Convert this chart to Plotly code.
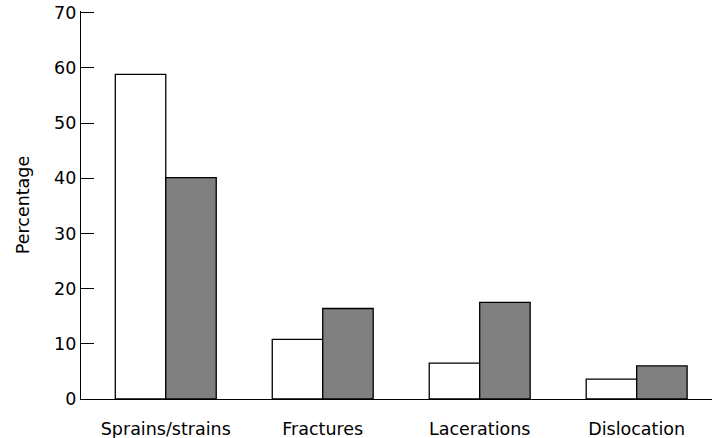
import plotly.graph_objects as go

categories = ["Sprains/strains", "Fractures", "Lacerations", "Dislocation"]
series_a = [58.8, 10.8, 6.5, 3.6]
series_b = [40.1, 16.4, 17.5, 6.0]
y_ticks = [0, 10, 20, 30, 40, 50, 60, 70]

fig = go.Figure()
fig.add_trace(go.Bar(x=categories, y=series_a, marker=dict(color="white", line=dict(color="black", width=1.3))))
fig.add_trace(go.Bar(x=categories, y=series_b, marker=dict(color="#808080", line=dict(color="black", width=1.3))))

fig.update_layout(
    width=720, height=438,
    margin=dict(l=81, r=8, t=11, b=39),
    paper_bgcolor="white", plot_bgcolor="white",
    barmode="group", bargap=0.357, bargroupgap=0,
    showlegend=False,
    font=dict(family="DejaVu Sans", size=17.5, color="black"),
)
fig.update_xaxes(
    range=[-0.54, 3.48], showline=True, linecolor="black", linewidth=1.3,
    showgrid=False, ticks="", tickfont=dict(size=17.5), automargin=False,
    ticklabelstandoff=14,
)
fig.update_yaxes(
    range=[0, 70.3], tickvals=y_ticks, showline=True, linecolor="black", linewidth=1.3,
    showgrid=False, zeroline=False, ticks="inside", ticklen=13, tickcolor="black", tickwidth=1.3,
    title=dict(text="Percentage", font=dict(size=17.5), standoff=19),
    tickfont=dict(size=17.5), automargin=False,
)
fig.write_html("out.html", config={"displayModeBar": False},
               post_script="document.body.style.margin='0px';")
